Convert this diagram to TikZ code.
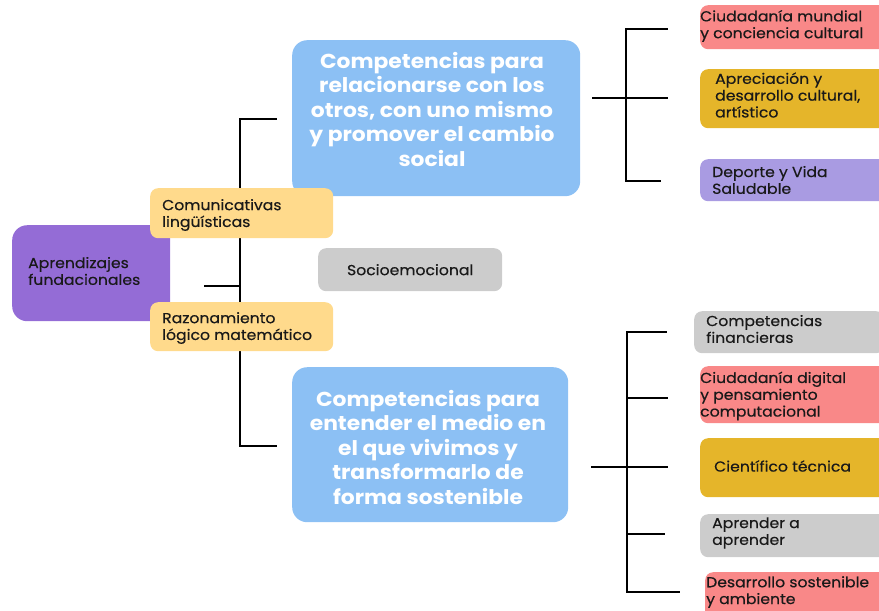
\documentclass[tikz,border=0pt]{standalone}
\usepackage{fontspec}
\setmainfont{Poppins}[FakeStretch=1.08, UprightFeatures={FakeBold=0.4}]
\usepackage{xcolor}
\usetikzlibrary{positioning}
\definecolor{morado}{RGB}{148,108,214}
\definecolor{amarillo}{RGB}{255,218,140}
\definecolor{gris}{RGB}{204,204,204}
\definecolor{azul}{RGB}{140,192,244}
\definecolor{rosa}{RGB}{249,136,136}
\definecolor{dorado}{RGB}{229,181,42}
\definecolor{lavanda}{RGB}{169,155,226}
\definecolor{tinta}{RGB}{25,25,25}

\tikzset{
    caja/.style={rounded corners=8pt, inner sep=0pt, anchor=north west},
    texto/.style={align=left, text=tinta, inner sep=0pt, anchor=west,
                  font=\fontsize{14.5}{16.8}\selectfont},
    titulo/.style={align=center, text=white, inner sep=0pt,
                   font=\fontsize{20.2}{24.5}\selectfont\bfseries},
    rama/.style={line width=2pt, line cap=rect}
}

\begin{document}
\begin{tikzpicture}[x=1pt, y=-1pt]
    \clip (0,0) rectangle (879,611);

    % ramas
    \coordinate (izq arriba) at (240,119);
    \coordinate (izq medio) at (240,286);
    \coordinate (izq abajo) at (240,446);
    \draw[rama] ([xshift=36]izq arriba) -- (izq arriba) -- (izq abajo) -- ++(36,0);
    \draw[rama] (izq medio) -- ++(-35,0);

    \coordinate (sup arriba) at (626,29);
    \coordinate (sup medio) at (626,98);
    \coordinate (sup abajo) at (626,181);
    \draw[rama] ([xshift=41]sup arriba) -- (sup arriba) -- (sup abajo) -- ++(34,0);
    \draw[rama] ([xshift=-33]sup medio) -- ++(74,0);

    \coordinate (inf arriba) at (627,332);
    \coordinate (inf medio) at (627,467);
    \coordinate (inf abajo) at (627,592);
    \draw[rama] ([xshift=39]inf arriba) -- (inf arriba) -- (inf abajo) -- ++(52,0);
    \draw[rama] ([xshift=-35]inf medio) -- ++(75,0);
    \foreach \y/\l in {398/40, 534/37}
        \draw[rama] (627,\y) -- ++(\l,0);

    % centro
    \node[caja, fill=azul, rounded corners=15pt, minimum width=288, minimum height=156] (rel) at (292,40) {};
    \node[titulo] (rel texto) at (432,109) {Competencias para\\relacionarse con los\\otros, con uno mismo\\y promover el cambio\\social};
    \node[caja, fill=azul, rounded corners=15pt, minimum width=276, minimum height=155] (medio) at (292,367) {};
    \node[titulo] (medio texto) at (428,447) {Competencias para\\entender el medio en\\el que vivimos y\\transformarlo de\\forma sostenible};
    \node[caja, fill=gris, minimum width=184, minimum height=43] (socio) at (318,248) {};
    \node[texto, anchor=center] (socio texto) at (socio.center) {Socioemocional};

    % izquierda
    \node[caja, fill=morado, rounded corners=15pt, minimum width=158, minimum height=96] (fund) at (12,225) {};
    \node[texto] (fund texto) at (28,271) {Aprendizajes\\fundacionales};
    \node[caja, fill=amarillo, minimum width=183, minimum height=50] (com) at (150,188) {};
    \node[texto] (com texto) at (162,215) {Comunicativas\\lingüísticas};
    \node[caja, fill=amarillo, minimum width=183, minimum height=49] (raz) at (150,302) {};
    \node[texto] (raz texto) at (162,328) {Razonamiento\\lógico matemático};

    % derecha
    \foreach[count=\i] \x/\y/\h/\c/\dx/\ty/\txt in {
            700/5/44/rosa/0/26/{Ciudadanía mundial\\y conciencia cultural},
            700/69/59/dorado/15/95/{Apreciación y\\desarrollo cultural,\\artístico},
            700/159/42/lavanda/12/180/{Deporte y Vida\\Saludable},
            694/311/42/gris/12/329/{Competencias\\financieras},
            700/366/57/rosa/0/396/{Ciudadanía digital\\y pensamiento\\computacional},
            700/438/59/dorado/14/466/{Científico técnica},
            700/514/43/gris/12/533/{Aprender a\\aprender},
            705/572/60/rosa/1/592/{Desarrollo sostenible\\y ambiente}}{
        \node[caja, fill=\c, minimum width=190, minimum height=\h] (hoja\i) at (\x,\y) {};
        \node[texto] (hoja\i texto) at (\x+\dx,\ty) {\txt};
    }
\end{tikzpicture}
\end{document}
